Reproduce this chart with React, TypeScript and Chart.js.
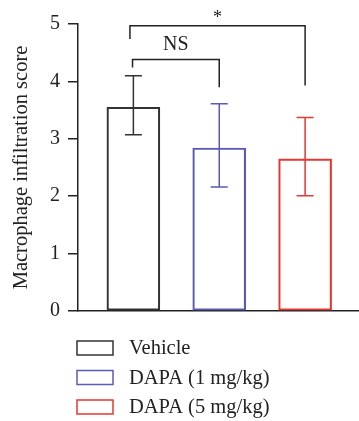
import React, { useEffect, useRef } from "react";
import { Chart, registerables } from "chart.js";

Chart.register(...registerables);

const groups = ["Vehicle", "DAPA (1 mg/kg)", "DAPA (5 mg/kg)"];
const positions = [1, 2, 3];
const means = [3.55, 2.84, 2.65];
const errUpper = [4.1, 3.61, 3.37];
const errLower = [3.07, 2.16, 2.01];
const colors = ["#333333", "#5a5ab4", "#e23a30"];
const yTicks = [0, 1, 2, 3, 4, 5];

const brackets = [
  { x1: 0.96, x2: 3.0, y: 4.97, yLeft: 4.74, yRight: 3.93, label: "*" },
  { x1: 0.99, x2: 2.0, y: 4.38, yLeft: 4.24, yRight: 3.9, label: "NS" },
];

const FONT = "'Liberation Serif', 'Times New Roman', serif";

const overlayPlugin = {
  id: "overlay",
  afterDatasetsDraw(chart: any) {
    const ctx = chart.ctx;
    const xs = chart.scales.x;
    const ys = chart.scales.y;
    ctx.save();
    ctx.lineWidth = 1.5;
    // error bars
    positions.forEach((p, i) => {
      const px = xs.getPixelForValue(p);
      const yt = ys.getPixelForValue(errUpper[i]);
      const yb = ys.getPixelForValue(errLower[i]);
      ctx.strokeStyle = colors[i];
      ctx.beginPath();
      ctx.moveTo(px, yt);
      ctx.lineTo(px, yb);
      ctx.moveTo(px - 8.5, yt);
      ctx.lineTo(px + 8.5, yt);
      ctx.moveTo(px - 8.5, yb);
      ctx.lineTo(px + 8.5, yb);
      ctx.stroke();
    });
    // brackets
    ctx.strokeStyle = "#222222";
    ctx.fillStyle = "#222222";
    brackets.forEach((b) => {
      const x1 = xs.getPixelForValue(b.x1);
      const x2 = xs.getPixelForValue(b.x2);
      const y = ys.getPixelForValue(b.y);
      ctx.beginPath();
      ctx.moveTo(x1, ys.getPixelForValue(b.yLeft));
      ctx.lineTo(x1, y);
      ctx.lineTo(x2, y);
      ctx.lineTo(x2, ys.getPixelForValue(b.yRight));
      ctx.stroke();
      ctx.textAlign = "center";
      ctx.textBaseline = "middle";
      if (b.label === "*") {
        ctx.font = `18px ${FONT}`;
        ctx.fillText(b.label, (x1 + x2) / 2, y - 7);
      } else {
        ctx.font = `20px ${FONT}`;
        ctx.fillText(b.label, (x1 + x2) / 2, y - 15);
      }
    });
    // legend
    const legX = 77;
    const legY = [348, 377.5, 407];
    groups.forEach((g, i) => {
      ctx.strokeStyle = colors[i];
      ctx.lineWidth = 1.5;
      ctx.strokeRect(legX, legY[i] - 7, 36, 14);
      ctx.fillStyle = "#222222";
      ctx.font = `20.5px ${FONT}`;
      ctx.textAlign = "left";
      ctx.textBaseline = "middle";
      ctx.fillText(g, 129, legY[i] + 1);
    });
    ctx.restore();
  },
};

export default function App() {
  const ref = useRef<HTMLCanvasElement | null>(null);
  useEffect(() => {
    document.body.style.margin = "0";
    const canvas = ref.current!;
    const chart = new Chart(canvas, {
      type: "bar",
      data: {
        datasets: [
          {
            data: positions.map((p, i) => ({ x: p, y: means[i] })),
            backgroundColor: "rgba(255,255,255,0)",
            borderColor: colors,
            borderWidth: 1.5,
            borderSkipped: false,
            barThickness: 53,
          },
        ],
      },
      options: {
        animation: false,
        responsive: false,
        layout: { padding: { top: 24, right: 1, bottom: 110, left: 0 } },
        plugins: { legend: { display: false }, tooltip: { enabled: false } },
        scales: {
          x: {
            type: "linear",
            offset: false,
            min: 0.355,
            max: 3.616,
            ticks: { display: false },
            grid: { display: false },
            border: { display: true, color: "#222222", width: 1.5 },
            afterFit(s: any) {
              s.height = 0;
            },
          },
          y: {
            min: 0,
            max: 5,
            afterBuildTicks(s: any) {
              s.ticks = yTicks.map((v) => ({ value: v }));
            },
            ticks: {
              color: "#222222",
              font: { family: FONT, size: 20 },
              padding: 8,
            },
            grid: {
              drawOnChartArea: false,
              drawTicks: true,
              tickLength: 10,
              color: "#222222",
              lineWidth: 1.5,
            },
            border: { display: true, color: "#222222", width: 1.5 },
            title: {
              display: true,
              text: "Macrophage infiltration score",
              color: "#222222",
              font: { family: FONT, size: 20.5 },
              padding: { top: 9, bottom: 0 },
            },
            afterFit(s: any) {
              s.width = 78;
            },
          },
        },
      },
      plugins: [overlayPlugin],
    });
    return () => chart.destroy();
  }, []);
  return (
    <canvas
      ref={ref}
      width={359}
      height={421}
      style={{ display: "block", width: 359, height: 421 }}
    />
  );
}
